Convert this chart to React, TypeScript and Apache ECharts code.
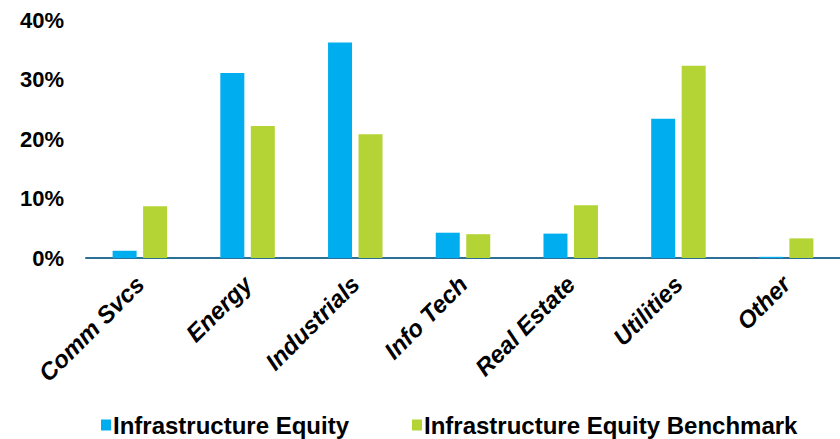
import React, { useEffect, useRef } from "react";
import * as echarts from "echarts";

const categories = ["Comm Svcs", "Energy", "Industrials", "Info Tech", "Real Estate", "Utilities", "Other"];
const equity = [1.2, 31.1, 36.2, 4.25, 4.1, 23.4, 0.2];
const benchmark = [8.7, 22.2, 20.8, 4.0, 8.85, 32.3, 3.3];
const seriesNames = ["Infrastructure Equity", "Infrastructure Equity Benchmark"];

const FONT = "'Liberation Sans', Arial, sans-serif";

export default function App() {
  const ref = useRef<HTMLDivElement>(null);
  useEffect(() => {
    document.body.style.margin = "0";
    const chart = echarts.init(ref.current!, undefined, { renderer: "svg" });
    const legendText = { fontSize: 24, fontWeight: "bold", color: "#000", fontFamily: FONT, lineHeight: 24, padding: [0, 0, 0, -3] };
    chart.setOption({
      animation: false,
      textStyle: { fontFamily: FONT },
      grid: { left: 86, top: 20, width: 763, height: 238 },
      legend: [
        {
          data: [seriesNames[0]],
          left: 96,
          top: 408,
          icon: "rect",
          itemWidth: 10,
          itemHeight: 11,
          itemGap: 0,
          textStyle: legendText,
        },
        {
          data: [seriesNames[1]],
          left: 407,
          top: 408,
          icon: "rect",
          itemWidth: 10,
          itemHeight: 11,
          itemGap: 0,
          textStyle: legendText,
        },
      ],
      xAxis: {
        type: "category",
        data: categories,
        axisLine: { lineStyle: { color: "#2C6F97", width: 2 } },
        axisTick: { show: false },
        axisLabel: {
          interval: 0,
          rotate: 45,
          margin: 22,
          fontSize: 24,
          fontWeight: "bold",
          fontStyle: "italic",
          color: "#000",
          fontFamily: FONT,
        },
      },
      yAxis: {
        type: "value",
        min: 0,
        max: 40,
        interval: 10,
        splitLine: { show: false },
        axisLine: { show: false },
        axisTick: { show: false },
        axisLabel: {
          formatter: "{value}%",
          fontSize: 22,
          fontWeight: "bold",
          color: "#000",
          margin: 22,
          fontFamily: FONT,
        },
      },
      series: [
        {
          name: seriesNames[0],
          type: "bar",
          data: equity,
          barWidth: 24,
          barGap: "27%",
          itemStyle: { color: "#00AEEF" },
        },
        {
          name: seriesNames[1],
          type: "bar",
          data: benchmark,
          barWidth: 24,
          itemStyle: { color: "#B4D335" },
        },
      ],
    });
    return () => chart.dispose();
  }, []);
  return <div ref={ref} style={{ width: 840, height: 439 }} />;
}
